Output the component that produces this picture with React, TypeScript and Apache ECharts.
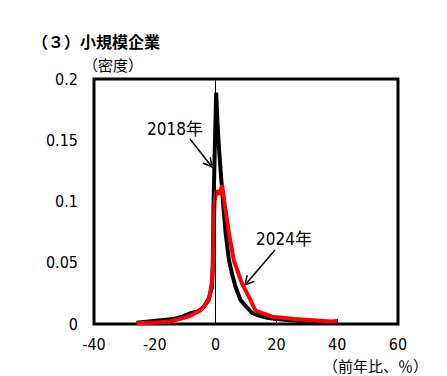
import React, { useEffect, useRef } from "react";
import * as echarts from "echarts";

const xTicks = [-40, -20, 0, 20, 40, 60];
const yTicks = [0, 0.05, 0.1, 0.15, 0.2];

const x2018 = [-26, -22, -18, -14, -11, -8, -6, -3.8, -2.2, -1.2, -0.9, -0.7, -0.3, 0.2, 0.6, 1.1, 1.9, 2.4, 3.3, 4.4, 5.5, 6.6, 8.2, 9.8, 12, 14, 17, 20, 25, 30, 35, 40];
const y2018 = [0.001, 0.002, 0.003, 0.004, 0.006, 0.009, 0.010, 0.014, 0.021, 0.030, 0.050, 0.095, 0.140, 0.189, 0.165, 0.144, 0.117, 0.101, 0.074, 0.052, 0.040, 0.030, 0.0195, 0.015, 0.009, 0.007, 0.005, 0.004, 0.003, 0.002, 0.0015, 0.001];

const x2024 = [-26, -20, -15, -12, -9, -5, -2.2, -1.1, -0.9, -0.6, -0.3, 0.3, 1.0, 1.5, 2.2, 2.8, 4.4, 6.0, 8.7, 11.5, 13.1, 18.6, 26, 32, 38, 40];
const y2024 = [0.0006, 0.001, 0.002, 0.004, 0.006, 0.011, 0.0195, 0.036, 0.047, 0.080, 0.101, 0.109, 0.106, 0.108, 0.113, 0.101, 0.074, 0.052, 0.033, 0.0195, 0.011, 0.006, 0.004, 0.003, 0.002, 0.0025];

const seriesNames = ["2018年", "2024年"];
const titleText = "（３）小規模企業";
const yUnit = "（密度）";
const xUnit = "（前年比、％）";

const NUM_FONT = "'DejaVu Sans Condensed', 'Noto Sans CJK JP', sans-serif";
const JP_FONT = "'Noto Sans CJK JP', sans-serif";

function arrow(x1: number, y1: number, x2: number, y2: number, len = 10, ang = 28) {
  const dx = x2 - x1;
  const dy = y2 - y1;
  const d = Math.hypot(dx, dy);
  const ux = dx / d;
  const uy = dy / d;
  const a = (ang * Math.PI) / 180;
  const rot = (s: number) => {
    const rx = ux * Math.cos(s * a) - uy * Math.sin(s * a);
    const ry = ux * Math.sin(s * a) + uy * Math.cos(s * a);
    return [x2 - len * rx, y2 - len * ry];
  };
  const style = { stroke: "#000", lineWidth: 1.5, fill: "none" };
  return [
    { type: "line", shape: { x1, y1, x2, y2 }, style },
    { type: "polyline", shape: { points: [rot(1), [x2, y2], rot(-1)] }, style },
  ];
}

export default function App() {
  const ref = useRef<HTMLDivElement>(null);
  useEffect(() => {
    if (!ref.current) return;
    const chart = echarts.init(ref.current, undefined, { renderer: "svg" });
    const d2018 = x2018.map((x, i) => [x, y2018[i]]);
    const d2024 = x2024.map((x, i) => [x, y2024[i]]);
    chart.setOption({
      animation: false,
      backgroundColor: "#fff",
      grid: {
        left: 94,
        right: 49,
        top: 79,
        bottom: 52,
        show: true,
        borderColor: "#000",
        borderWidth: 3,
        backgroundColor: "transparent",
      },
      xAxis: {
        type: "value",
        min: xTicks[0],
        max: xTicks[xTicks.length - 1],
        interval: 20,
        axisLine: { show: false },
        axisTick: { show: true, inside: true, length: 5, lineStyle: { color: "#000", width: 1 } },
        splitLine: { show: false },
        axisLabel: { color: "#000", fontSize: 16, fontFamily: NUM_FONT, margin: 12, lineHeight: 16 },
      },
      yAxis: {
        type: "value",
        min: yTicks[0],
        max: yTicks[yTicks.length - 1],
        interval: 0.05,
        axisLine: { show: false },
        axisTick: { show: false },
        splitLine: { show: false },
        axisLabel: { color: "#000", fontSize: 16, fontFamily: NUM_FONT, margin: 16 },
      },
      series: [
        {
          name: seriesNames[0],
          type: "line",
          data: d2018,
          symbol: "none",
          lineStyle: { color: "#000", width: 4 },
          z: 2,
          markLine: {
            silent: true,
            symbol: "none",
            label: { show: false },
            lineStyle: { color: "#000", width: 1, type: "solid" },
            data: [{ xAxis: 0 }],
          },
        },
        {
          name: seriesNames[1],
          type: "line",
          data: d2024,
          symbol: "none",
          lineStyle: { color: "#ff0000", width: 4 },
          z: 3,
        },
      ],
      graphic: [
        {
          type: "text",
          left: 32,
          top: 33,
          style: { text: titleText, font: `bold 16px ${JP_FONT}`, fill: "#000" },
        },
        {
          type: "text",
          left: 83,
          top: 57,
          style: { text: yUnit, font: `15px ${JP_FONT}`, fill: "#000" },
        },
        {
          type: "text",
          left: 323,
          top: 357,
          style: { text: xUnit, font: `15px ${JP_FONT}`, fill: "#000", lineHeight: 17 },
        },
        {
          type: "text",
          x: 175,
          y: 129,
          style: { text: seriesNames[0], font: `17px ${NUM_FONT}`, fill: "#000", align: "center", verticalAlign: "middle" },
        },
        {
          type: "text",
          x: 284,
          y: 239,
          style: { text: seriesNames[1], font: `17px ${NUM_FONT}`, fill: "#000", align: "center", verticalAlign: "middle" },
        },
        ...arrow(190, 139, 212, 167),
        ...arrow(275, 250, 245, 285),
      ],
    });
    return () => chart.dispose();
  }, []);
  return <div ref={ref} style={{ width: 447, height: 376, position: "absolute", left: 0, top: 0 }} />;
}
